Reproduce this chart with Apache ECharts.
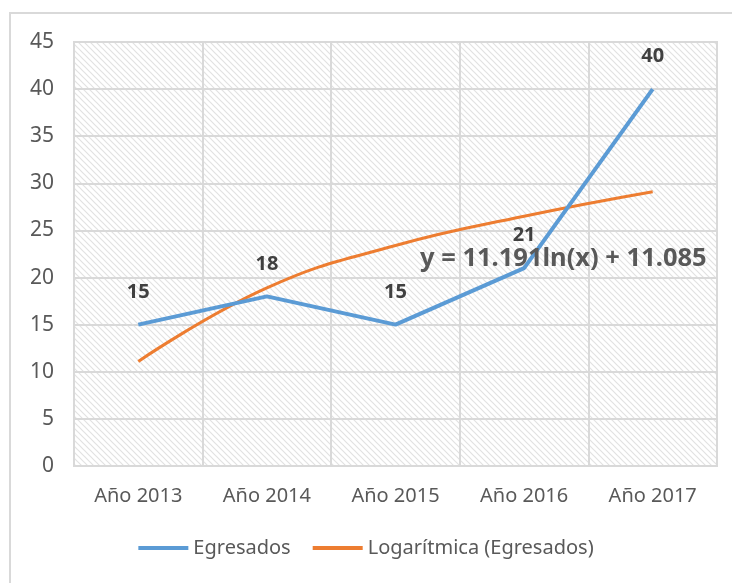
<!DOCTYPE html>
<html>
<head>
	<meta charset="UTF-8">
	<title>Egresados</title>
	<script src="https://cdn.jsdelivr.net/npm/echarts@6/dist/echarts.min.js"></script>
	<style>
		html, body { margin: 0; padding: 0; background: #fff; }
		#main { width: 732px; height: 583px; }
	</style>
</head>
<body>
<div id="main"></div>
<script>
	// datos
	var years = ['Año 2013', 'Año 2014', 'Año 2015', 'Año 2016', 'Año 2017'];
	var egresados = [15, 18, 15, 21, 40];
	var tendencia = [11.1, 18.9, 23.4, 26.5, 29.1];
	var yTicks = [0, 45, 5];
	var ecuacion = 'y = 11.191ln(x) + 11.085';

	// trama diagonal del fondo
	function hatch() {
		var c = document.createElement('canvas');
		c.width = 6; c.height = 6;
		var ctx = c.getContext('2d');
		ctx.fillStyle = '#fff';
		ctx.fillRect(0, 0, 6, 6);
		ctx.strokeStyle = '#e2e2e2';
		ctx.lineWidth = 1.2;
		ctx.beginPath();
		ctx.moveTo(-1, -1); ctx.lineTo(7, 7);
		ctx.moveTo(-1, 5); ctx.lineTo(1, 7);
		ctx.moveTo(5, -1); ctx.lineTo(7, 1);
		ctx.stroke();
		return c;
	}

	var font = 'Noto Sans';
	var myChart = echarts.init(document.getElementById('main'));
	var option = {
		backgroundColor: '#fff',
		animation: false,
		textStyle: { fontFamily: font },
		grid: {
			left: 74, top: 42, right: 15, bottom: 117,
			show: true,
			backgroundColor: { image: hatch(), repeat: 'repeat' },
			borderColor: '#d9d9d9',
			borderWidth: 2
		},
		legend: {
			bottom: 20,
			left: 'center',
			itemWidth: 50,
			itemHeight: 4,
			itemGap: 22,
			icon: 'rect',
			textStyle: { fontFamily: font, fontSize: 20, color: '#595959' },
			data: [
				{ name: 'Egresados', itemStyle: { color: '#5b9bd5' } },
				{ name: 'Logarítmica (Egresados)', itemStyle: { color: '#ed7d31' } }
			]
		},
		xAxis: {
			type: 'category',
			data: years,
			boundaryGap: true,
			axisLine: { show: false },
			axisTick: { show: false },
			axisLabel: { fontSize: 20, color: '#595959', margin: 20 },
			splitLine: { show: true, interval: 0, lineStyle: { color: '#d9d9d9', width: 2 } }
		},
		yAxis: {
			type: 'value',
			min: yTicks[0], max: yTicks[1], interval: yTicks[2],
			axisLine: { show: false },
			axisTick: { show: false },
			axisLabel: { fontSize: 21, color: '#595959', margin: 20 },
			splitLine: { lineStyle: { color: '#d9d9d9', width: 2 } }
		},
		graphic: [
			{
				type: 'rect',
				shape: { x: 10, y: 13, width: 740, height: 600 },
				style: { fill: 'none', stroke: '#d9d9d9', lineWidth: 2 },
				silent: true
			},
			{
				type: 'text',
				left: 420, top: 246,
				z: 100,
				style: {
					text: ecuacion,
					font: 'bold 25.5px "' + font + '"',
					fill: '#595959'
				}
			}
		],
		series: [
			{
				name: 'Egresados',
				type: 'line',
				data: egresados,
				symbol: 'circle',
				symbolSize: 1,
				showSymbol: true,
				itemStyle: { color: 'rgba(0,0,0,0)' },
				lineStyle: { width: 4, color: '#5b9bd5' },
				label: {
					show: true, position: 'top', distance: 22,
					fontSize: 20, fontWeight: 'bold', color: '#404040'
				},
				z: 3
			},
			{
				name: 'Logarítmica (Egresados)',
				type: 'line',
				data: tendencia,
				smooth: 0.45,
				symbol: 'none',
				color: '#ed7d31',
				lineStyle: { width: 3, color: '#ed7d31' },
				z: 2
			}
		]
	};
	myChart.setOption(option);
</script>
</body>
</html>
